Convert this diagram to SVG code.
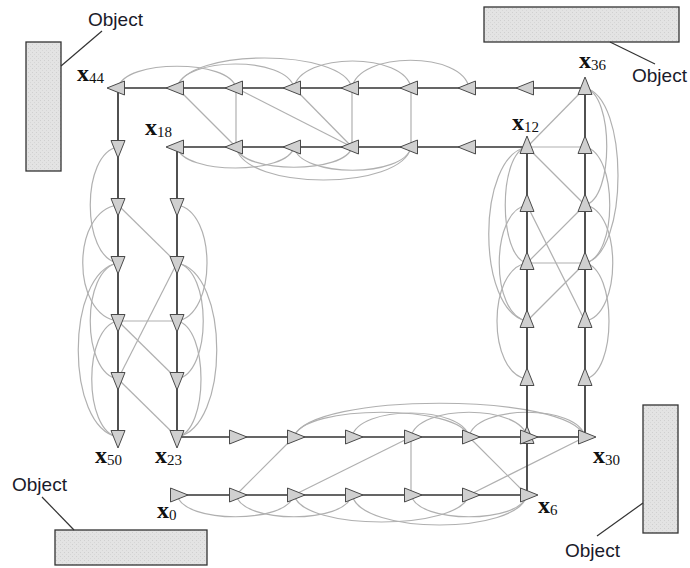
<svg xmlns="http://www.w3.org/2000/svg" xmlns:xlink="http://www.w3.org/1999/xlink" width="690" height="568" viewBox="0 0 690 568">
  <style>
    .odo { fill: none; stroke: #333; stroke-width: 1.7; }
    .lc { fill: none; stroke: #b0b0b0; stroke-width: 1.2; }
    .pose { fill: #d0d0d0; stroke: #4a4a4a; stroke-width: 1; stroke-linejoin: miter; }
    .obj { fill: url(#grain); stroke: #333; stroke-width: 1.3; }
    .lead { stroke: #333; stroke-width: 1.2; }
    .objlbl { font-family: "Liberation Sans", Arial, sans-serif; font-size: 19px; fill: #1a1a2a; }
    .nl { font-family: "Liberation Serif", "Times New Roman", serif; fill: #111; }
    .nx { font-weight: bold; font-size: 24px; }
    .ns { font-size: 15px; }
  </style>
  <defs>
    <pattern id="grain" width="4" height="4" patternUnits="userSpaceOnUse">
      <rect width="4" height="4" fill="#e3e3e3"/>
      <rect x="0" y="0" width="1" height="1" fill="#cfcfcf"/>
      <rect x="2" y="2" width="1" height="1" fill="#d6d6d6"/>
    </pattern>
    <!-- pose marker pointing along +x -->
    <path id="tri" class="pose" d="M -6.5 -7 L -6.5 7 L 11 0 Z"/>
  </defs>

  <rect width="690" height="568" fill="#fff"/>

  <!-- objects seen by the robot -->
  <g id="obj-tl">
    <rect class="obj" x="26" y="42" width="35" height="129"/>
    <line class="lead" x1="61" y1="66" x2="102" y2="31"/>
    <text class="objlbl" x="88" y="26">Object</text>
  </g>
  <g id="obj-tr">
    <rect class="obj" x="484" y="7" width="195" height="35"/>
    <line class="lead" x1="610" y1="42" x2="655" y2="64"/>
    <text class="objlbl" x="632" y="82">Object</text>
  </g>
  <g id="obj-bl">
    <rect class="obj" x="55" y="530" width="152" height="35"/>
    <line class="lead" x1="42" y1="497" x2="74" y2="530"/>
    <text class="objlbl" x="12" y="491">Object</text>
  </g>
  <g id="obj-br">
    <rect class="obj" x="643" y="405" width="35" height="128"/>
    <line class="lead" x1="643" y1="503" x2="597" y2="536"/>
    <text class="objlbl" x="565" y="557">Object</text>
  </g>

  <g id="connectors">
    <!-- loop-closure constraints -->
    <g id="loops">
      <!-- bottom row, below -->
      <path class="lc" d="M177,495 C183,524 288,524 294,495"/>
      <path class="lc" d="M236,495 C242,524 346,524 352,495"/>
      <path class="lc" d="M294,495 C303,531 460,531 469,495"/>
      <path class="lc" d="M352,495 C361,535 518,535 527,495"/>
      <path class="lc" d="M411,495 C417,524 521,524 527,495"/>
      <!-- row through x23..x30, above -->
      <path class="lc" d="M294,437 C309,392 570,392 585,437"/>
      <path class="lc" d="M294,437 C303,404 460,404 469,437"/>
      <path class="lc" d="M352,437 C358,405 463,405 469,437"/>
      <path class="lc" d="M411,437 C417,404 521,404 527,437"/>
      <path class="lc" d="M469,437 C475,404 579,404 585,437"/>
      <!-- top row, above -->
      <path class="lc" d="M118,88 C124,59 230,59 236,88"/>
      <path class="lc" d="M177,88 C183,56 288,56 294,88"/>
      <path class="lc" d="M177,88 C186,48 343,48 352,88"/>
      <path class="lc" d="M294,88 C300,52 405,52 411,88"/>
      <path class="lc" d="M352,88 C358,51 463,51 469,88"/>
      <!-- row through x12..x18, below -->
      <path class="lc" d="M177,147 C183,175 288,175 294,147"/>
      <path class="lc" d="M236,147 C242,174 346,174 352,147"/>
      <path class="lc" d="M236,147 C245,191 402,191 411,147"/>
      <path class="lc" d="M294,147 C300,178 405,178 411,147"/>
      <!-- left column x44..x50 -->
      <path class="lc" d="M118,147 C81,153 81,257 118,263"/>
      <path class="lc" d="M118,205 C71,211 71,315 118,321"/>
      <path class="lc" d="M118,263 C81,269 81,373 118,379"/>
      <path class="lc" d="M118,263 C65,272 65,428 118,437"/>
      <path class="lc" d="M118,321 C83,327 83,431 118,437"/>
      <!-- column x18..x23 -->
      <path class="lc" d="M177,205 C217,211 217,315 177,321"/>
      <path class="lc" d="M177,263 C212,269 212,373 177,379"/>
      <path class="lc" d="M177,263 C230,272 230,428 177,437"/>
      <path class="lc" d="M177,321 C209,327 209,431 177,437"/>
      <!-- column x6..x12 -->
      <path class="lc" d="M527,147 C498,153 498,257 527,263"/>
      <path class="lc" d="M527,147 C476,156 476,312 527,321"/>
      <path class="lc" d="M527,205 C490,211 490,315 527,321"/>
      <path class="lc" d="M527,263 C487,269 487,373 527,379"/>
      <!-- column x30..x36 -->
      <path class="lc" d="M585,88 C614,94 614,199 585,205"/>
      <path class="lc" d="M585,88 C629,97 629,254 585,263"/>
      <path class="lc" d="M585,147 C618,153 618,257 585,263"/>
      <path class="lc" d="M585,205 C622,211 622,315 585,321"/>
      <path class="lc" d="M585,263 C617,269 617,373 585,379"/>
      <!-- straight constraints -->
      <line class="lc" x1="236" y1="495" x2="294" y2="437"/>
      <line class="lc" x1="294" y1="495" x2="411" y2="437"/>
      <line class="lc" x1="411" y1="495" x2="411" y2="437"/>
      <line class="lc" x1="469" y1="437" x2="527" y2="495"/>
      <line class="lc" x1="469" y1="495" x2="585" y2="437"/>
      <line class="lc" x1="177" y1="88" x2="236" y2="147"/>
      <line class="lc" x1="236" y1="88" x2="236" y2="147"/>
      <line class="lc" x1="236" y1="88" x2="352" y2="147"/>
      <line class="lc" x1="294" y1="88" x2="352" y2="147"/>
      <line class="lc" x1="352" y1="88" x2="352" y2="147"/>
      <line class="lc" x1="411" y1="88" x2="411" y2="147"/>
      <line class="lc" x1="118" y1="205" x2="177" y2="263"/>
      <line class="lc" x1="118" y1="321" x2="177" y2="321"/>
      <line class="lc" x1="118" y1="321" x2="177" y2="379"/>
      <line class="lc" x1="118" y1="379" x2="177" y2="437"/>
      <line class="lc" x1="177" y1="263" x2="118" y2="379"/>
      <line class="lc" x1="527" y1="147" x2="585" y2="88"/>
      <line class="lc" x1="527" y1="147" x2="585" y2="147"/>
      <line class="lc" x1="527" y1="147" x2="585" y2="205"/>
      <line class="lc" x1="527" y1="205" x2="585" y2="321"/>
      <line class="lc" x1="527" y1="263" x2="585" y2="205"/>
      <line class="lc" x1="527" y1="263" x2="585" y2="263"/>
      <line class="lc" x1="527" y1="321" x2="585" y2="263"/>
    </g>
    <!-- odometry chain x0 .. x50 -->
    <path id="odometry" class="odo" d="M177,495 H527 V147 H177 V437 H585 V88 H118 V437"/>
  </g>

  <!-- poses -->
  <g id="x0"><use xlink:href="#tri" transform="translate(177,495)"/>
    <text class="nl" x="157" y="518"><tspan class="nx">x</tspan><tspan class="ns" dy="2">0</tspan></text></g>
  <g id="x1"><use xlink:href="#tri" transform="translate(236,495)"/></g>
  <g id="x2"><use xlink:href="#tri" transform="translate(294,495)"/></g>
  <g id="x3"><use xlink:href="#tri" transform="translate(352,495)"/></g>
  <g id="x4"><use xlink:href="#tri" transform="translate(411,495)"/></g>
  <g id="x5"><use xlink:href="#tri" transform="translate(469,495)"/></g>
  <g id="x6"><use xlink:href="#tri" transform="translate(527,495)"/>
    <text class="nl" x="538" y="513"><tspan class="nx">x</tspan><tspan class="ns" dy="2">6</tspan></text></g>
  <g id="x7"><use xlink:href="#tri" transform="translate(527,437) rotate(-90)"/></g>
  <g id="x8"><use xlink:href="#tri" transform="translate(527,379) rotate(-90)"/></g>
  <g id="x9"><use xlink:href="#tri" transform="translate(527,321) rotate(-90)"/></g>
  <g id="x10"><use xlink:href="#tri" transform="translate(527,263) rotate(-90)"/></g>
  <g id="x11"><use xlink:href="#tri" transform="translate(527,205) rotate(-90)"/></g>
  <g id="x12"><use xlink:href="#tri" transform="translate(527,147) rotate(-90)"/>
    <text class="nl" x="512" y="130"><tspan class="nx">x</tspan><tspan class="ns" dy="2">12</tspan></text></g>
  <g id="x13"><use xlink:href="#tri" transform="translate(469,147) rotate(180)"/></g>
  <g id="x14"><use xlink:href="#tri" transform="translate(411,147) rotate(180)"/></g>
  <g id="x15"><use xlink:href="#tri" transform="translate(352,147) rotate(180)"/></g>
  <g id="x16"><use xlink:href="#tri" transform="translate(294,147) rotate(180)"/></g>
  <g id="x17"><use xlink:href="#tri" transform="translate(236,147) rotate(180)"/></g>
  <g id="x18"><use xlink:href="#tri" transform="translate(177,147) rotate(180)"/>
    <text class="nl" x="145" y="135"><tspan class="nx">x</tspan><tspan class="ns" dy="2">18</tspan></text></g>
  <g id="x19"><use xlink:href="#tri" transform="translate(177,205) rotate(90)"/></g>
  <g id="x20"><use xlink:href="#tri" transform="translate(177,263) rotate(90)"/></g>
  <g id="x21"><use xlink:href="#tri" transform="translate(177,321) rotate(90)"/></g>
  <g id="x22"><use xlink:href="#tri" transform="translate(177,379) rotate(90)"/></g>
  <g id="x23"><use xlink:href="#tri" transform="translate(177,437) rotate(90)"/>
    <text class="nl" x="155" y="463"><tspan class="nx">x</tspan><tspan class="ns" dy="2">23</tspan></text></g>
  <g id="x24"><use xlink:href="#tri" transform="translate(236,437)"/></g>
  <g id="x25"><use xlink:href="#tri" transform="translate(294,437)"/></g>
  <g id="x26"><use xlink:href="#tri" transform="translate(352,437)"/></g>
  <g id="x27"><use xlink:href="#tri" transform="translate(411,437)"/></g>
  <g id="x28"><use xlink:href="#tri" transform="translate(469,437)"/></g>
  <g id="x29"><use xlink:href="#tri" transform="translate(527,437)"/></g>
  <g id="x30"><use xlink:href="#tri" transform="translate(585,437)"/>
    <text class="nl" x="593" y="463"><tspan class="nx">x</tspan><tspan class="ns" dy="2">30</tspan></text></g>
  <g id="x31"><use xlink:href="#tri" transform="translate(585,379) rotate(-90)"/></g>
  <g id="x32"><use xlink:href="#tri" transform="translate(585,321) rotate(-90)"/></g>
  <g id="x33"><use xlink:href="#tri" transform="translate(585,263) rotate(-90)"/></g>
  <g id="x34"><use xlink:href="#tri" transform="translate(585,205) rotate(-90)"/></g>
  <g id="x35"><use xlink:href="#tri" transform="translate(585,147) rotate(-90)"/></g>
  <g id="x36"><use xlink:href="#tri" transform="translate(585,88) rotate(-90)"/>
    <text class="nl" x="579" y="68"><tspan class="nx">x</tspan><tspan class="ns" dy="2">36</tspan></text></g>
  <g id="x37"><use xlink:href="#tri" transform="translate(527,88) rotate(180)"/></g>
  <g id="x38"><use xlink:href="#tri" transform="translate(469,88) rotate(180)"/></g>
  <g id="x39"><use xlink:href="#tri" transform="translate(411,88) rotate(180)"/></g>
  <g id="x40"><use xlink:href="#tri" transform="translate(352,88) rotate(180)"/></g>
  <g id="x41"><use xlink:href="#tri" transform="translate(294,88) rotate(180)"/></g>
  <g id="x42"><use xlink:href="#tri" transform="translate(236,88) rotate(180)"/></g>
  <g id="x43"><use xlink:href="#tri" transform="translate(177,88) rotate(180)"/></g>
  <g id="x44"><use xlink:href="#tri" transform="translate(118,88) rotate(180)"/>
    <text class="nl" x="77" y="81"><tspan class="nx">x</tspan><tspan class="ns" dy="2">44</tspan></text></g>
  <g id="x45"><use xlink:href="#tri" transform="translate(118,147) rotate(90)"/></g>
  <g id="x46"><use xlink:href="#tri" transform="translate(118,205) rotate(90)"/></g>
  <g id="x47"><use xlink:href="#tri" transform="translate(118,263) rotate(90)"/></g>
  <g id="x48"><use xlink:href="#tri" transform="translate(118,321) rotate(90)"/></g>
  <g id="x49"><use xlink:href="#tri" transform="translate(118,379) rotate(90)"/></g>
  <g id="x50"><use xlink:href="#tri" transform="translate(118,437) rotate(90)"/>
    <text class="nl" x="95" y="463"><tspan class="nx">x</tspan><tspan class="ns" dy="2">50</tspan></text></g>
</svg>
